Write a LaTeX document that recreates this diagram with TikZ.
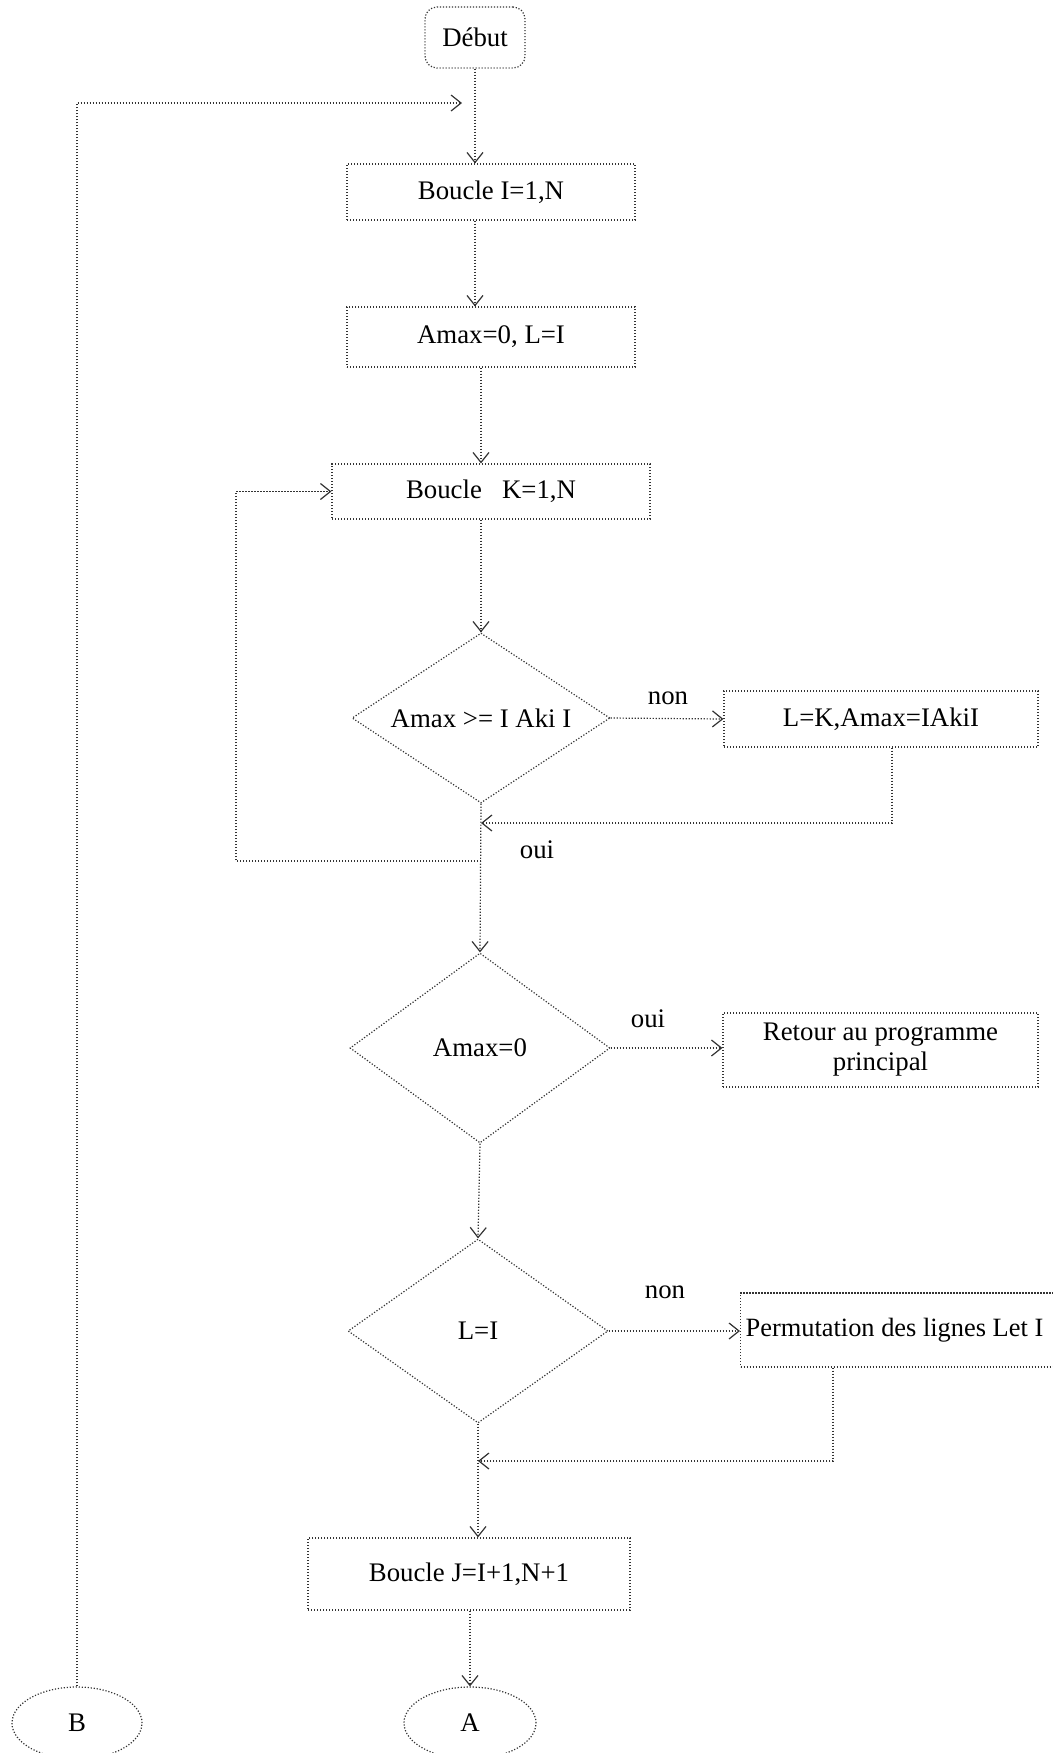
\documentclass[tikz,border=0pt]{standalone}
\usepackage{fontspec}
\setmainfont{Liberation Serif}
\usetikzlibrary{shapes.geometric,arrows.meta}
\begin{document}
\begin{tikzpicture}[x=0.5pt,y=-0.5pt,
  every node/.style={font=\fontsize{13.4pt}{15pt}\selectfont, text=black},
  dotline/.style={draw=black!80, line width=0.6pt, dash pattern=on 0.6pt off 0.9pt},
  procbox/.style={dotline, rectangle, inner sep=0pt},
  decision/.style={dotline, diamond, shape aspect=1.5, inner sep=0pt},
  term/.style={dotline, ellipse, inner sep=0pt, minimum width=66pt, minimum height=36pt},
  conn/.style={dotline, -{Straight Barb[length=5pt,width=8pt]}},
  lab/.style={inner sep=1pt}
]
\useasboundingbox (0,0) rectangle (1053,1753);
\clip (0,0) rectangle (1053,1753);

% nodes
\node[procbox, rounded corners=6pt, minimum width=50pt, minimum height=30.5pt] (debut) at (475,37.5) {Début};
\node[procbox, minimum width=144pt, minimum height=28pt] (bI) at (491,192) {Boucle I=1,N};
\node[procbox, minimum width=144pt, minimum height=30pt] (amax) at (491,337) {Amax=0, L=I};
\node[procbox, minimum width=159pt, minimum height=27.5pt] (bK) at (491,491.5) {Boucle\ \ \ K=1,N};
\node[decision, minimum width=129pt, minimum height=85pt] (d1) at (481,718) {Amax >= I Aki I};
\node[procbox, minimum width=157pt, minimum height=28pt] (lk) at (881,719) {L=K,Amax=IAkiI};
\node[decision, minimum width=130pt, minimum height=95pt] (d2) at (480,1048) {Amax=0};
\node[procbox, minimum width=157.5pt, minimum height=37pt, align=center] (ret) at (880.5,1050) {Retour au programme\\principal};
\node[decision, minimum width=130pt, minimum height=92pt] (d3) at (478,1331) {L=I};
\node[procbox, anchor=west, minimum height=37pt, inner xsep=2.5pt] (perm) at (740,1330) {\makebox[156pt][l]{\fontsize{13.2pt}{15pt}\selectfont Permutation des lignes Let I}};
\node[procbox, minimum width=161pt, minimum height=36pt] (bJ) at (469,1574) {Boucle J=I+1,N+1};
\node[term] (A) at (470,1723) {A};
\node[term, minimum width=65pt] (B) at (77,1723) {B};

% labels
\node[lab] (non1) at (668,698) {non};
\node[lab] (oui1) at (537,850) {oui};
\node[lab] (oui2) at (648,1019) {oui};
\node[lab] (non2) at (665,1292) {non};

% helper coordinates
\coordinate (top) at (462,103);
\coordinate (m1) at (892,823);
\coordinate (lp) at (236,861);
\coordinate (m2) at (833,1461);

% connectors
\draw[conn] (debut.south) -- (debut.south |- bI.north);
\draw[conn] (bI.south -| debut.south) -- (amax.north -| debut.south);
\draw[conn] (amax.south -| d1.north) -- (bK.north -| d1.north);
\draw[conn] (bK.south -| d1.north) -- (d1.north);
\draw[conn] (d1.east) -- (lk.west);
\draw[conn] (lk.south -| m1) -- (m1) -- (m1 -| d1.south);
\draw[conn] (d1.south) -- (d2.north);
\draw[conn] (d1.south |- lp) -- (lp) -- (lp |- bK.west) -- (bK.west);
\draw[conn] (d2.east) -- (d2.east -| ret.west);
\draw[conn] (d2.south) -- (d3.north);
\draw[conn] (d3.east) -- (d3.east -| perm.west);
\draw[conn] (perm.south -| m2) -- (m2) -- (m2 -| d3.south);
\draw[conn] (d3.south) -- (d3.south |- bJ.north);
\draw[conn] (bJ.south -| A.north) -- (A.north);
\draw[conn] (B.north) -- (B.north |- top) -- (top);
\end{tikzpicture}
\end{document}
